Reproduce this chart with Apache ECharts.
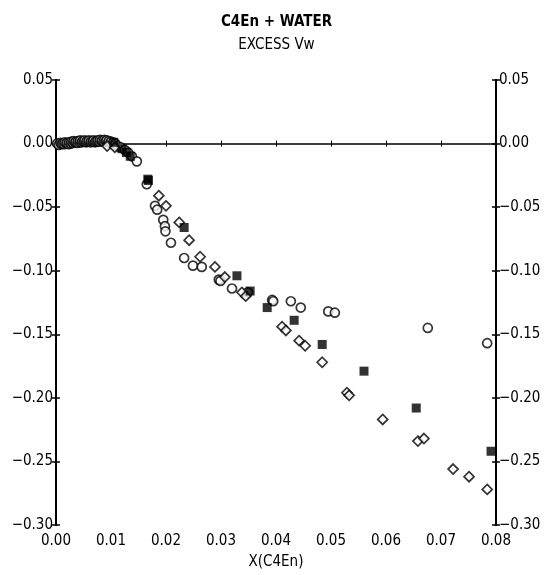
<!DOCTYPE html>
<html>
<head>
<meta charset="utf-8">
<script src="https://cdn.jsdelivr.net/npm/echarts@6/dist/echarts.min.js"></script>
<style>
html,body{margin:0;padding:0;background:#fff;}
#chart{width:553px;height:575px;}
</style>
</head>
<body>
<div id="chart"></div>
<script>
var titleText = 'C4En + WATER';
var subtitleText = 'EXCESS Vw';
var xAxisName = 'X(C4En)';
var xTicks = [0.00, 0.01, 0.02, 0.03, 0.04, 0.05, 0.06, 0.07, 0.08];
var yTicks = [0.05, 0.00, -0.05, -0.10, -0.15, -0.20, -0.25, -0.30];

var circles = [
  [0.0002,0.000],[0.0005,-0.001],[0.0008,0.0005],[0.0010,-0.0005],[0.0012,0.000],[0.0015,-0.0005],
  [0.0016,0.001],[0.0019,0.000],[0.0020,0.0005],[0.0023,-0.0005],[0.0024,0.001],[0.0027,0.000],
  [0.0028,0.0015],[0.0031,0.0005],[0.0032,0.002],[0.0035,0.001],[0.0036,0.0015],[0.0039,0.0005],
  [0.0040,0.002],[0.0043,0.001],[0.0044,0.0025],[0.0047,0.001],[0.0048,0.002],[0.0051,0.0015],
  [0.0052,0.0025],[0.0055,0.001],[0.0056,0.002],[0.0059,0.0015],[0.0060,0.0025],[0.0063,0.001],
  [0.0064,0.002],[0.0067,0.0015],[0.0068,0.0025],[0.0071,0.001],[0.0072,0.002],[0.0075,0.0015],
  [0.0076,0.0025],[0.0079,0.0015],[0.0080,0.003],[0.0083,0.002],[0.0084,0.0025],[0.0087,0.0015],
  [0.0088,0.003],[0.0091,0.002],[0.0092,0.0025],[0.0095,0.001],[0.0096,0.002],[0.0099,0.0005],
  [0.0100,0.0015],[0.0104,0.001],[0.0108,0.000],[0.0112,-0.002],[0.0118,-0.003],[0.0125,-0.005],
  [0.0131,-0.007],[0.0138,-0.010],[0.0147,-0.014],
  [0.0165,-0.032],[0.0180,-0.049],[0.0184,-0.052],[0.0195,-0.060],[0.0198,-0.065],[0.0199,-0.069],
  [0.0209,-0.078],[0.0233,-0.090],[0.0249,-0.096],[0.0265,-0.097],[0.0296,-0.107],[0.0299,-0.108],
  [0.0320,-0.114],[0.0349,-0.117],[0.0393,-0.123],[0.0395,-0.124],[0.0427,-0.124],[0.0445,-0.129],
  [0.0495,-0.132],[0.0507,-0.133],[0.0676,-0.145],[0.0784,-0.157]
];
var diamonds = [
  [0.0093,-0.002],[0.0107,-0.003],[0.0187,-0.041],[0.0200,-0.049],[0.0224,-0.062],[0.0242,-0.076],
  [0.0262,-0.089],[0.0289,-0.097],[0.0307,-0.105],[0.0338,-0.117],[0.0345,-0.120],[0.0411,-0.144],
  [0.0418,-0.147],[0.0442,-0.155],[0.0453,-0.159],[0.0484,-0.172],[0.0529,-0.196],[0.0533,-0.198],
  [0.0594,-0.217],[0.0658,-0.234],[0.0669,-0.232],[0.0722,-0.256],[0.0751,-0.262],[0.0784,-0.272]
];
var squares = [
  [0.0105,0.001],[0.0120,-0.004],[0.0128,-0.007],[0.0135,-0.010],[0.0167,-0.028],[0.0168,-0.029],
  [0.0233,-0.066],[0.0329,-0.104],[0.0353,-0.116],[0.0384,-0.129],[0.0433,-0.139],[0.0484,-0.158],
  [0.0560,-0.179],[0.0655,-0.208],[0.0791,-0.242]
];

var FONT = "'Liberation Sans Narrow','DejaVu Sans Condensed','Liberation Sans',sans-serif";
var xMin = xTicks[0], xMax = xTicks[xTicks.length-1], xInt = 0.01;
var yMin = yTicks[yTicks.length-1], yMax = yTicks[0], yInt = 0.05;

function yAx(pos, showLabel, inside) {
  return {
    type: 'value', position: pos, min: yMin, max: yMax, interval: yInt,
    axisLine: { show: true, onZero: false, lineStyle: { color: '#000', width: 2 } },
    axisTick: { show: true, inside: inside, length: 4, lineStyle: { color: '#000', width: 1.5 } },
    axisLabel: { show: showLabel, color: '#000', fontFamily: FONT, fontSize: 15, margin: 3,
      formatter: function (v) { return v.toFixed(2).replace('-', '\u2212'); } },
    splitLine: { show: false }
  };
}

var chart = echarts.init(document.getElementById('chart'), null, { renderer: 'canvas' });
chart.setOption({
  animation: false,
  backgroundColor: '#fff',
  title: [
    { text: titleText, left: 'center', top: 10, textStyle: { fontFamily: FONT, fontSize: 15, fontWeight: 'bold', color: '#000' } },
    { text: subtitleText, left: 'center', top: 33, textStyle: { fontFamily: FONT, fontSize: 15, fontWeight: 'normal', color: '#000' } }
  ],
  grid: { left: 56, right: 57, top: 80, bottom: 48, containLabel: false },
  xAxis: [
    { type: 'value', min: xMin, max: xMax, interval: xInt, position: 'bottom',
      name: xAxisName, nameLocation: 'middle', nameGap: 30,
      nameTextStyle: { fontFamily: FONT, fontSize: 15, color: '#000' },
      axisLine: { show: false, onZero: false }, axisTick: { show: false },
      axisLabel: { color: '#000', fontFamily: FONT, fontSize: 15, margin: 9,
        formatter: function (v) { return v.toFixed(2); } },
      splitLine: { show: false } },
    { type: 'value', min: xMin, max: xMax, interval: xInt, position: 'bottom',
      axisLine: { show: true, onZero: true, onZeroAxisIndex: 0, lineStyle: { color: '#000', width: 1.5 } },
      axisTick: { show: true, inside: true, length: 3, lineStyle: { color: '#000', width: 1 } },
      axisLabel: { show: false }, splitLine: { show: false } },
    { type: 'value', min: xMin, max: xMax, interval: xInt, position: 'bottom',
      axisLine: { show: false, onZero: true, onZeroAxisIndex: 0 },
      axisTick: { show: true, inside: false, length: 3, lineStyle: { color: '#000', width: 1 } },
      axisLabel: { show: false }, splitLine: { show: false } }
  ],
  yAxis: [ yAx('left', true, false), yAx('left', false, true), yAx('right', true, false), yAx('right', false, true) ],
  series: [
    { type: 'scatter', name: 'circles', data: circles, symbol: 'circle', symbolSize: 9,
      itemStyle: { color: '#fff', borderColor: '#000', borderWidth: 1.7 } },
    { type: 'scatter', name: 'diamonds', data: diamonds, symbol: 'diamond', symbolSize: [10, 10],
      itemStyle: { color: '#fff', borderColor: '#000', borderWidth: 1.7 } },
    { type: 'scatter', name: 'squares', data: squares, symbol: 'rect', symbolSize: 9,
      itemStyle: { color: '#000', borderColor: '#000', borderWidth: 0 } }
  ]
});
</script>
</body>
</html>
